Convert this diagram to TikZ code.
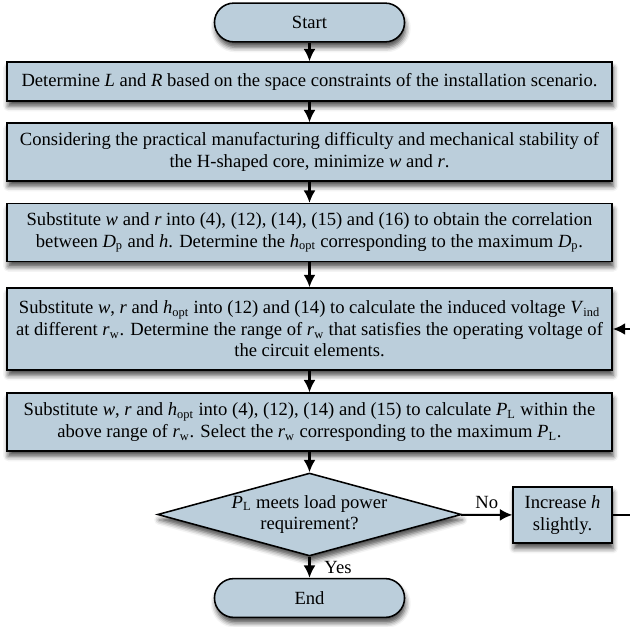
\documentclass[tikz,border=0pt]{standalone}
\usepackage{fontspec}
\setmainfont{Liberation Serif}
\usepackage{tikz}
\usetikzlibrary{arrows.meta, shapes.geometric, shadows.blur}
\newcommand{\vsub}[2]{\textit{#1}\textsubscript{#2}}
\definecolor{boxblue}{RGB}{187,206,219}

\begin{document}
\begin{tikzpicture}[x=0.02267cm, y=-0.02267cm,
    every node/.style={font=\fontsize{12}{13.9}\selectfont},
    shadebox/.style={draw, line width=1pt, fill=boxblue,
        blur shadow={shadow xshift=0.8pt, shadow yshift=-3.5pt, shadow blur radius=3.2pt, shadow opacity=70}},
    terminal/.style={shadebox, rounded corners=0.44cm, minimum width=4.31cm, minimum height=0.88cm},
    process/.style={shadebox, align=center, minimum width=13.72cm, inner sep=2pt},
    decision/.style={shadebox, diamond, aspect=3.66, align=center, inner sep=0pt, minimum width=6.89cm, minimum height=1.88cm},
    flow/.style={line width=1.3pt, -{Latex[length=2.8mm, width=2.7mm]}}]
    \useasboundingbox (0,0) rectangle (630,626);

    % Main column
    \node[terminal] (start) at (309.5, 22.5) {Start};
    \node[process, minimum height=0.88cm] (determine) at (309.5, 81.5)
        {Determine \textit{L} and \textit{R} based on the space constraints of the installation scenario.};
    \node[process, minimum height=1.31cm] (minimize) at (309.5, 152)
        {Considering the practical manufacturing difficulty and mechanical stability of\\
         the H-shaped core, minimize \textit{w} and \textit{r}.};
    \node[process, minimum height=1.31cm] (correlate) at (309.5, 232.5)
        {Substitute \textit{w} and \textit{r} into (4), (12), (14), (15) and (16) to obtain the correlation\\
         between \vsub{D}{p} and \textit{h}. Determine the \vsub{h}{opt} corresponding to the maximum \vsub{D}{p}.};
    \node[process, minimum height=1.86cm] (range) at (309.5, 329)
        {Substitute \textit{w}, \textit{r} and \vsub{h}{opt} into (12) and (14) to calculate the induced voltage \vsub{V}{ind}\\
         at different \vsub{r}{w}. Determine the range of \vsub{r}{w} that satisfies the operating voltage of\\
         the circuit elements.};
    \node[process, minimum height=1.31cm] (select) at (309.5, 422)
        {Substitute \textit{w}, \textit{r} and \vsub{h}{opt} into (4), (12), (14) and (15) to calculate \vsub{P}{L} within the\\
         above range of \vsub{r}{w}. Select the \vsub{r}{w} corresponding to the maximum \vsub{P}{L}.};
    \node[decision] (meets) at (309.5, 514.5) {\vsub{P}{L} meets load power\\requirement?};
    \node[terminal] (finish) at (309.5, 598) {End};

    % Loop back
    \node[shadebox, align=center, minimum width=2.24cm, minimum height=1.27cm] (increase) at (562.5, 515)
        {Increase \textit{h}\\slightly.};

    \draw[flow] (start) -- (determine);
    \draw[flow] (determine) -- (minimize);
    \draw[flow] (minimize) -- (correlate);
    \draw[flow] (correlate) -- (range);
    \draw[flow] (range) -- (select);
    \draw[flow] (select) -- (meets);
    \draw[flow] (meets) -- node[right, xshift=0.2cm] {Yes} (finish);
    \draw[flow] (meets) -- node[above] {No} (increase);
    \draw[flow] (increase.east) -- ++(30,0) |- (range.east);
\end{tikzpicture}
\end{document}
